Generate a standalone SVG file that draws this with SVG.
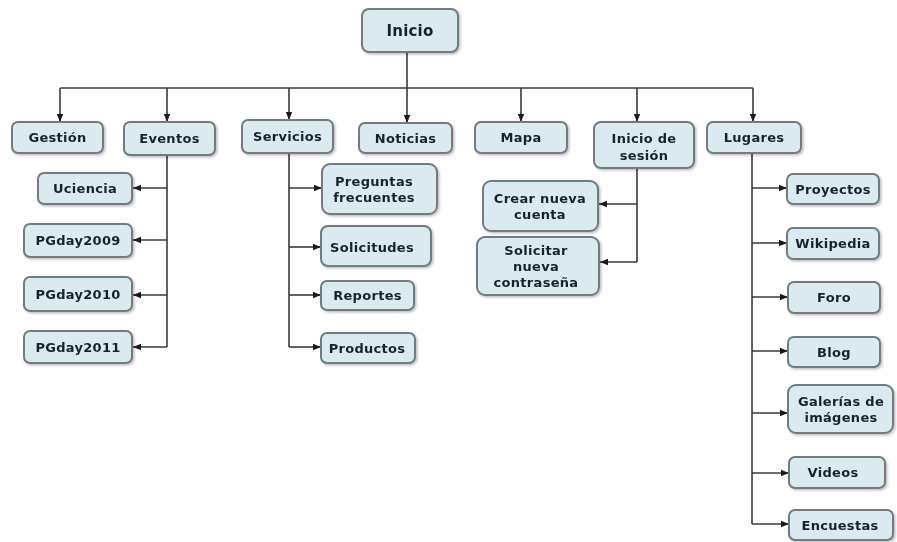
<svg xmlns="http://www.w3.org/2000/svg" width="897" height="542" viewBox="0 0 897 542">
<style>
  .box { fill: #dbe9f1; stroke: #6f7b80; stroke-width: 2; }
  .t { font-family: "DejaVu Sans", Verdana, sans-serif; font-weight: bold; font-size: 13px; letter-spacing: 0.3px; fill: #18232b; text-anchor: middle; dominant-baseline: central; }
  .big { font-size: 15px; letter-spacing: 0.2px; }
  .c { fill: none; stroke: #3a3a3a; stroke-width: 1.6; marker-end: url(#arr); }
  .l { fill: none; stroke: #3a3a3a; stroke-width: 1.6; }
</style>
<defs>
  <marker id="arr" markerUnits="userSpaceOnUse" markerWidth="9" markerHeight="8" refX="8" refY="4" orient="auto">
    <path d="M0,0.8 L8,4 L0,7.2 Z" fill="#1a1a1a"/>
  </marker>
  <filter id="sh" x="-10%" y="-10%" width="130%" height="140%">
    <feDropShadow dx="1.5" dy="1.5" stdDeviation="1.2" flood-color="#000" flood-opacity="0.25"/>
  </filter>
</defs>
<rect width="897" height="542" fill="#ffffff"/>
<g id="connectors">
  <path class="l" d="M407 52 V88"/>
  <path class="l" d="M60 88 H753"/>
  <path class="c" d="M60 88 V122"/>
  <path class="c" d="M167 88 V122"/>
  <path class="c" d="M289 88 V120"/>
  <path class="c" d="M407 88 V123"/>
  <path class="c" d="M521 88 V122"/>
  <path class="c" d="M637 88 V122"/>
  <path class="c" d="M753 88 V122"/>
  <path class="l" d="M167 155 V347"/>
  <path class="c" d="M167 188 H133"/>
  <path class="c" d="M167 240 H133"/>
  <path class="c" d="M167 295 H133"/>
  <path class="c" d="M167 347 H133"/>
  <path class="l" d="M289 153 V347"/>
  <path class="c" d="M289 188 H322"/>
  <path class="c" d="M289 247 H321"/>
  <path class="c" d="M289 295 H321"/>
  <path class="c" d="M289 347 H321"/>
  <path class="l" d="M637 168 V262"/>
  <path class="c" d="M637 204 H599"/>
  <path class="c" d="M637 262 H600"/>
  <path class="l" d="M752 153 V524"/>
  <path class="c" d="M752 188 H787"/>
  <path class="c" d="M752 243 H787"/>
  <path class="c" d="M752 297 H788"/>
  <path class="c" d="M752 351 H788"/>
  <path class="c" d="M752 413 H788"/>
  <path class="c" d="M752 473 H789"/>
  <path class="c" d="M752 524 H789"/>
</g>
<g id="inicio" filter="url(#sh)"><rect class="box" x="362" y="9" width="96" height="43" rx="7"/><text class="t big" x="410" y="31">Inicio</text></g>
<g id="gestion" filter="url(#sh)"><rect class="box" x="12" y="122" width="91" height="31" rx="6"/><text class="t" x="57.5" y="137.5">Gestión</text></g>
<g id="eventos" filter="url(#sh)"><rect class="box" x="124" y="122" width="91" height="33" rx="6"/><text class="t" x="169.5" y="138.5">Eventos</text></g>
<g id="servicios" filter="url(#sh)"><rect class="box" x="242" y="120" width="91" height="33" rx="6"/><text class="t" x="287.5" y="136.5">Servicios</text></g>
<g id="noticias" filter="url(#sh)"><rect class="box" x="359" y="123" width="93" height="30" rx="6"/><text class="t" x="405.5" y="138.5">Noticias</text></g>
<g id="mapa" filter="url(#sh)"><rect class="box" x="475" y="122" width="92" height="31" rx="6"/><text class="t" x="521" y="137.5">Mapa</text></g>
<g id="inicio-sesion" filter="url(#sh)"><rect class="box" x="594" y="122" width="100" height="46" rx="7"/><text class="t" x="644" y="138">Inicio de</text><text class="t" x="644" y="155">sesión</text></g>
<g id="lugares" filter="url(#sh)"><rect class="box" x="707" y="122" width="94" height="31" rx="6"/><text class="t" x="754" y="137.5">Lugares</text></g>
<g id="uciencia" filter="url(#sh)"><rect class="box" x="38" y="173" width="94" height="31" rx="6"/><text class="t" x="85" y="188.5">Uciencia</text></g>
<g id="pgday2009" filter="url(#sh)"><rect class="box" x="24" y="224" width="108" height="33" rx="6"/><text class="t" x="78" y="240.5">PGday2009</text></g>
<g id="pgday2010" filter="url(#sh)"><rect class="box" x="24" y="277" width="108" height="34" rx="6"/><text class="t" x="78" y="294.5">PGday2010</text></g>
<g id="pgday2011" filter="url(#sh)"><rect class="box" x="24" y="331" width="108" height="32" rx="6"/><text class="t" x="78" y="347">PGday2011</text></g>
<g id="preguntas" filter="url(#sh)"><rect class="box" x="322" y="164" width="115" height="50" rx="8"/><text class="t" x="374" y="181">Preguntas</text><text class="t" x="374" y="197">frecuentes</text></g>
<g id="solicitudes" filter="url(#sh)"><rect class="box" x="321" y="226" width="110" height="40" rx="7"/><text class="t" x="372" y="247">Solicitudes</text></g>
<g id="reportes" filter="url(#sh)"><rect class="box" x="321" y="281" width="93" height="29" rx="6"/><text class="t" x="367.5" y="295.5">Reportes</text></g>
<g id="productos" filter="url(#sh)"><rect class="box" x="321" y="333" width="94" height="30" rx="6"/><text class="t" x="367" y="348">Productos</text></g>
<g id="crear-cuenta" filter="url(#sh)"><rect class="box" x="483" y="181" width="115" height="50" rx="8"/><text class="t" x="540" y="198">Crear nueva</text><text class="t" x="540" y="214">cuenta</text></g>
<g id="solicitar-contrasena" filter="url(#sh)"><rect class="box" x="477" y="237" width="122" height="58" rx="8"/><text class="t" x="536" y="250">Solicitar</text><text class="t" x="536" y="266">nueva</text><text class="t" x="536" y="282">contraseña</text></g>
<g id="proyectos" filter="url(#sh)"><rect class="box" x="787" y="174" width="92" height="30" rx="6"/><text class="t" x="833" y="189">Proyectos</text></g>
<g id="wikipedia" filter="url(#sh)"><rect class="box" x="787" y="228" width="92" height="31" rx="6"/><text class="t" x="833" y="243.5">Wikipedia</text></g>
<g id="foro" filter="url(#sh)"><rect class="box" x="788" y="282" width="92" height="31" rx="6"/><text class="t" x="834" y="297.5">Foro</text></g>
<g id="blog" filter="url(#sh)"><rect class="box" x="788" y="337" width="92" height="30" rx="6"/><text class="t" x="834" y="352">Blog</text></g>
<g id="galerias" filter="url(#sh)"><rect class="box" x="788" y="385" width="105" height="48" rx="8"/><text class="t" x="841" y="401">Galerías de</text><text class="t" x="841" y="417">imágenes</text></g>
<g id="videos" filter="url(#sh)"><rect class="box" x="789" y="457" width="96" height="31" rx="6"/><text class="t" x="833" y="472.5">Videos</text></g>
<g id="encuestas" filter="url(#sh)"><rect class="box" x="789" y="510" width="104" height="30" rx="6"/><text class="t" x="840" y="525">Encuestas</text></g>
</svg>
